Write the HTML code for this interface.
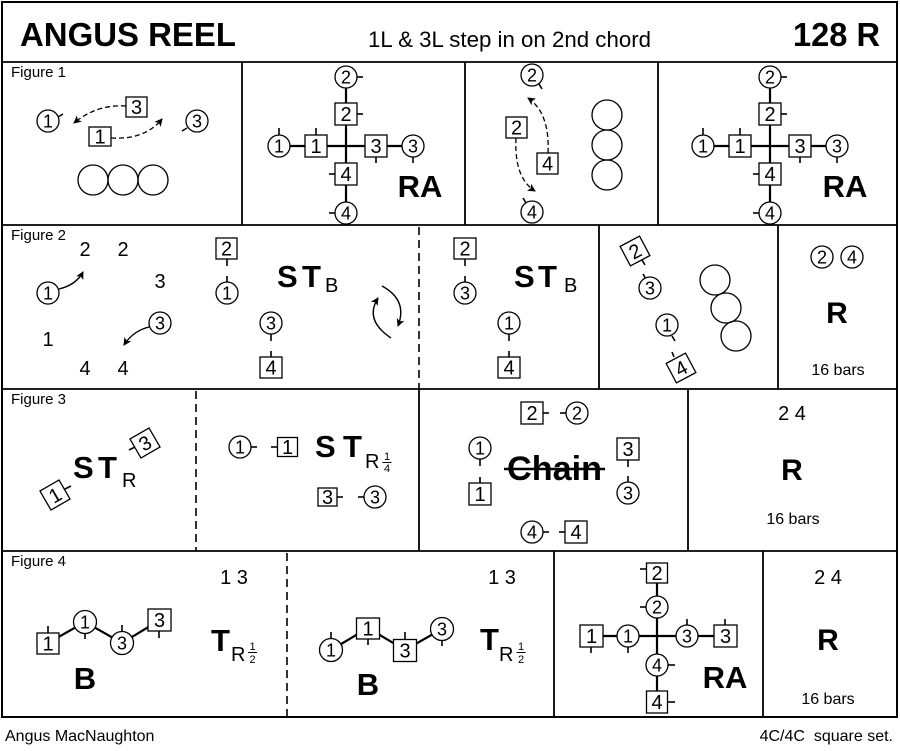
<!DOCTYPE html>
<html><head><meta charset="utf-8">
<style>
html,body{margin:0;padding:0;background:#fff;}
svg{display:block;}
text{font-family:"Liberation Sans",Arial,sans-serif;fill:#000;}
.fr{stroke:#000;stroke-width:1.8;fill:none}
.dl{stroke:#000;stroke-width:1.6;fill:none;stroke-dasharray:8,5}
.ln{stroke:#000;stroke-width:2.2;fill:none}
.tk{stroke:#000;stroke-width:1.6}
.sh{fill:#fff;stroke:#000;stroke-width:1.3}
.oc{fill:none;stroke:#000;stroke-width:1.3}
.da{stroke:#000;stroke-width:1.3;fill:none;stroke-dasharray:5,3}
.ar{stroke:#000;stroke-width:1.4;fill:none}
.n{font-size:18px;text-anchor:middle}
.nb{font-size:20px;text-anchor:middle}
.bd{font-weight:bold}
.lab{font-size:15px}
</style></head><body>
<svg width="900" height="751" viewBox="0 0 900 751" xmlns="http://www.w3.org/2000/svg">
<defs>
<marker id="ah" markerWidth="10" markerHeight="10" refX="7" refY="4" orient="auto" markerUnits="userSpaceOnUse">
<path d="M0,0 L8,4 L0,8 L2,4 z" fill="#000"/>
</marker>
</defs>

<!-- Frame -->
<rect x="2" y="2" width="895" height="715" fill="none" stroke="#000" stroke-width="2"/>
<line class="fr" x1="2" y1="62" x2="897" y2="62"/>
<line class="fr" x1="2" y1="225" x2="897" y2="225"/>
<line class="fr" x1="2" y1="389" x2="897" y2="389"/>
<line class="fr" x1="2" y1="551" x2="897" y2="551"/>
<!-- Fig1 cols -->
<line class="fr" x1="242" y1="62" x2="242" y2="225"/>
<line class="fr" x1="465" y1="62" x2="465" y2="225"/>
<line class="fr" x1="658" y1="62" x2="658" y2="225"/>
<!-- Fig2 cols -->
<line class="dl" x1="419" y1="227" x2="419" y2="389"/>
<line class="fr" x1="599" y1="225" x2="599" y2="389"/>
<line class="fr" x1="778" y1="225" x2="778" y2="389"/>
<!-- Fig3 cols -->
<line class="dl" x1="196" y1="391" x2="196" y2="551"/>
<line class="fr" x1="419" y1="389" x2="419" y2="551"/>
<line class="fr" x1="688" y1="389" x2="688" y2="551"/>
<!-- Fig4 cols -->
<line class="dl" x1="287" y1="553" x2="287" y2="717"/>
<line class="fr" x1="554" y1="551" x2="554" y2="717"/>
<line class="fr" x1="763" y1="551" x2="763" y2="717"/>

<!-- Header -->
<text x="20" y="46" font-size="33" class="bd" textLength="216" lengthAdjust="spacingAndGlyphs">ANGUS REEL</text>
<text x="368" y="47" font-size="22" textLength="283" lengthAdjust="spacingAndGlyphs">1L &amp; 3L step in on 2nd chord</text>
<text x="793" y="46" font-size="33" class="bd" textLength="87" lengthAdjust="spacingAndGlyphs">128 R</text>

<!-- Figure labels -->
<text x="11" y="77" class="lab">Figure 1</text>
<text x="11" y="240" class="lab">Figure 2</text>
<text x="11" y="404" class="lab">Figure 3</text>
<text x="11" y="566" class="lab">Figure 4</text>

<!-- ===== Figure 1 panel 1 ===== -->
<path class="da" d="M126,106 Q97,104 74,123" marker-end="url(#ah)"/>
<path class="da" d="M111,138 Q145,140 162,119" marker-end="url(#ah)"/>
<line class="tk" x1="58" y1="117" x2="63" y2="114"/>
<circle class="sh" cx="48" cy="121" r="11"/><text class="n" x="48" y="127.4">1</text>
<line class="tk" x1="187" y1="128" x2="182" y2="131"/>
<circle class="sh" cx="197" cy="121" r="11"/><text class="n" x="197" y="127.4">3</text>
<rect class="sh" x="126" y="97" width="21" height="20"/><text class="nb" x="136.5" y="114.2">3</text>
<rect class="sh" x="89" y="127" width="22" height="19"/><text class="nb" x="100" y="143.7">1</text>
<circle class="oc" cx="93" cy="180" r="15"/>
<circle class="oc" cx="123" cy="180" r="15"/>
<circle class="oc" cx="153" cy="180" r="15"/>

<!-- ===== Figure 1 panel 2 (RA) ===== -->
<line class="ln" x1="346" y1="85" x2="346" y2="205"/>
<line class="ln" x1="285" y1="146" x2="405" y2="146"/>
<line class="tk" x1="357" y1="77" x2="363" y2="77"/>
<circle class="sh" cx="346" cy="77" r="11"/><text class="n" x="346" y="83.4">2</text>
<line class="tk" x1="357" y1="114" x2="363" y2="114"/>
<rect class="sh" x="335" y="103" width="22" height="22"/><text class="nb" x="346" y="121.2">2</text>
<line class="tk" x1="279" y1="128" x2="279" y2="135"/>
<circle class="sh" cx="279" cy="146" r="11"/><text class="n" x="279" y="152.4">1</text>
<line class="tk" x1="316" y1="128" x2="316" y2="135"/>
<rect class="sh" x="305" y="135" width="22" height="22"/><text class="nb" x="316" y="153.2">1</text>
<line class="tk" x1="376" y1="157" x2="376" y2="163"/>
<rect class="sh" x="365" y="135" width="22" height="22"/><text class="nb" x="376" y="153.2">3</text>
<line class="tk" x1="413" y1="157" x2="413" y2="163"/>
<circle class="sh" cx="413" cy="146" r="11"/><text class="n" x="413" y="152.4">3</text>
<line class="tk" x1="329" y1="174" x2="335" y2="174"/>
<rect class="sh" x="335" y="163" width="22" height="22"/><text class="nb" x="346" y="181.2">4</text>
<line class="tk" x1="329" y1="213" x2="335" y2="213"/>
<circle class="sh" cx="346" cy="213" r="11"/><text class="n" x="346" y="219.4">4</text>
<text x="420" y="197" font-size="31" class="bd" text-anchor="middle">RA</text>

<!-- ===== Figure 1 panel 3 ===== -->
<path class="da" d="M548,153 Q550,113 528,98" marker-end="url(#ah)"/>
<path class="da" d="M516,138 Q514,178 535,191" marker-end="url(#ah)"/>
<line class="tk" x1="539" y1="84" x2="542" y2="89"/>
<circle class="sh" cx="532" cy="75" r="11"/><text class="n" x="532" y="81.4">2</text>
<rect class="sh" x="506" y="117" width="21" height="21"/><text class="nb" x="516.5" y="134.7">2</text>
<rect class="sh" x="537" y="153" width="21" height="21"/><text class="nb" x="547.5" y="170.7">4</text>
<line class="tk" x1="526" y1="203" x2="523" y2="198"/>
<circle class="sh" cx="532" cy="212" r="11"/><text class="n" x="532" y="218.4">4</text>
<circle class="oc" cx="607" cy="115" r="15"/>
<circle class="oc" cx="607" cy="145" r="15"/>
<circle class="oc" cx="607" cy="175" r="15"/>

<!-- ===== Figure 1 panel 4 (RA) ===== -->
<line class="ln" x1="770" y1="85" x2="770" y2="205"/>
<line class="ln" x1="709" y1="146" x2="829" y2="146"/>
<line class="tk" x1="781" y1="77" x2="787" y2="77"/>
<circle class="sh" cx="770" cy="77" r="11"/><text class="n" x="770" y="83.4">2</text>
<line class="tk" x1="781" y1="114" x2="787" y2="114"/>
<rect class="sh" x="759" y="103" width="22" height="22"/><text class="nb" x="770" y="121.2">2</text>
<line class="tk" x1="703" y1="128" x2="703" y2="135"/>
<circle class="sh" cx="703" cy="146" r="11"/><text class="n" x="703" y="152.4">1</text>
<line class="tk" x1="740" y1="128" x2="740" y2="135"/>
<rect class="sh" x="729" y="135" width="22" height="22"/><text class="nb" x="740" y="153.2">1</text>
<line class="tk" x1="800" y1="157" x2="800" y2="163"/>
<rect class="sh" x="789" y="135" width="22" height="22"/><text class="nb" x="800" y="153.2">3</text>
<line class="tk" x1="837" y1="157" x2="837" y2="163"/>
<circle class="sh" cx="837" cy="146" r="11"/><text class="n" x="837" y="152.4">3</text>
<line class="tk" x1="753" y1="174" x2="759" y2="174"/>
<rect class="sh" x="759" y="163" width="22" height="22"/><text class="nb" x="770" y="181.2">4</text>
<line class="tk" x1="753" y1="213" x2="759" y2="213"/>
<circle class="sh" cx="770" cy="213" r="11"/><text class="n" x="770" y="219.4">4</text>
<text x="845" y="197" font-size="31" class="bd" text-anchor="middle">RA</text>

<!-- ===== Figure 2 panel 1 ===== -->
<text class="nb" x="85" y="256">2</text>
<text class="nb" x="123" y="256">2</text>
<text class="nb" x="160" y="288">3</text>
<text class="nb" x="48" y="346">1</text>
<text class="nb" x="85" y="375">4</text>
<text class="nb" x="123" y="375">4</text>
<path class="ar" d="M59,289 Q76,285 83,272" marker-end="url(#ah)"/>
<circle class="sh" cx="48" cy="293" r="11"/><text class="n" x="48" y="299.4">1</text>
<path class="ar" d="M149,327 Q133,331 124,345" marker-end="url(#ah)"/>
<circle class="sh" cx="160" cy="323" r="11"/><text class="n" x="160" y="329.4">3</text>
<line class="tk" x1="227" y1="259" x2="227" y2="266"/>
<line class="tk" x1="227" y1="276" x2="227" y2="282"/>
<rect class="sh" x="216" y="238" width="21" height="21"/><text class="nb" x="226.5" y="255.7">2</text>
<circle class="sh" cx="227" cy="293" r="11"/><text class="n" x="227" y="299.4">1</text>
<line class="tk" x1="271" y1="334" x2="271" y2="341"/>
<line class="tk" x1="271" y1="351" x2="271" y2="357"/>
<circle class="sh" cx="271" cy="323" r="11"/><text class="n" x="271" y="329.4">3</text>
<rect class="sh" x="260" y="357" width="22" height="21"/><text class="nb" x="271" y="374.7">4</text>
<text x="277" y="287" font-size="31" class="bd">S</text>
<text x="302" y="287" font-size="31" class="bd">T</text>
<text x="325" y="292" font-size="20">B</text>
<path class="ar" d="M382,286 Q408,300 398,326" marker-end="url(#ah)"/>
<path class="ar" d="M391,338 Q364,320 378,298" marker-end="url(#ah)"/>

<!-- ===== Figure 2 panel 2 ===== -->
<line class="tk" x1="465" y1="259" x2="465" y2="266"/>
<line class="tk" x1="465" y1="276" x2="465" y2="282"/>
<rect class="sh" x="454" y="238" width="22" height="21"/><text class="nb" x="465" y="255.7">2</text>
<circle class="sh" cx="465" cy="293" r="11"/><text class="n" x="465" y="299.4">3</text>
<text x="514" y="287" font-size="31" class="bd">S</text>
<text x="538" y="287" font-size="31" class="bd">T</text>
<text x="564" y="292" font-size="20">B</text>
<line class="tk" x1="509" y1="334" x2="509" y2="341"/>
<line class="tk" x1="509" y1="351" x2="509" y2="357"/>
<circle class="sh" cx="509" cy="323" r="11"/><text class="n" x="509" y="329.4">1</text>
<rect class="sh" x="498" y="357" width="22" height="21"/><text class="nb" x="509" y="374.7">4</text>

<!-- ===== Figure 2 panel 3 ===== -->
<line class="tk" x1="642" y1="260" x2="645" y2="265"/>
<line class="tk" x1="643" y1="274" x2="646" y2="279"/>
<line class="tk" x1="672" y1="336" x2="675" y2="341"/>
<line class="tk" x1="672" y1="352" x2="674" y2="357"/>
<g transform="translate(635,251) rotate(-28)"><rect class="sh" x="-11" y="-11" width="22" height="22"/><text class="nb" x="0" y="7.2">2</text></g>
<circle class="sh" cx="650" cy="288" r="11"/><text class="n" x="650" y="294.4">3</text>
<circle class="sh" cx="667" cy="325" r="11"/><text class="n" x="667" y="331.4">1</text>
<g transform="translate(681,368) rotate(-28)"><rect class="sh" x="-11" y="-11" width="22" height="22"/><text class="nb" x="0" y="7.2">4</text></g>
<circle class="oc" cx="715" cy="280" r="15"/>
<circle class="oc" cx="726" cy="308" r="15"/>
<circle class="oc" cx="736" cy="336" r="15"/>

<!-- ===== Figure 2 panel 4 ===== -->
<circle class="sh" cx="822" cy="257" r="11"/><text class="n" x="822" y="263.4">2</text>
<circle class="sh" cx="852" cy="257" r="11"/><text class="n" x="852" y="263.4">4</text>
<text x="837" y="323" font-size="30" class="bd" text-anchor="middle">R</text>
<text x="838" y="375" font-size="16" text-anchor="middle">16 bars</text>

<!-- ===== Figure 3 panel 1 ===== -->
<text x="73" y="478" font-size="31" class="bd">S</text>
<text x="98" y="478" font-size="31" class="bd">T</text>
<text x="122" y="487" font-size="20">R</text>
<line class="tk" x1="65" y1="489" x2="71" y2="486"/>
<g transform="translate(55,495) rotate(-30)"><rect class="sh" x="-11" y="-11" width="22" height="22"/><text class="nb" x="0" y="7.2">1</text></g>
<line class="tk" x1="129" y1="450" x2="135" y2="447"/>
<g transform="translate(145,443) rotate(-30)"><rect class="sh" x="-11" y="-11" width="22" height="22"/><text class="nb" x="0" y="7.2">3</text></g>

<!-- ===== Figure 3 panel 2 ===== -->
<line class="tk" x1="251" y1="447" x2="257" y2="447"/>
<circle class="sh" cx="240" cy="447" r="11"/><text class="n" x="240" y="453.4">1</text>
<line class="tk" x1="271" y1="447" x2="277" y2="447"/>
<rect class="sh" x="277.5" y="437.5" width="20" height="19"/><text class="nb" x="287.5" y="454.2">1</text>
<text x="315" y="457" font-size="31" class="bd">S</text>
<text x="343" y="457" font-size="31" class="bd">T</text>
<text x="365" y="468" font-size="20">R</text>
<text x="387" y="460" font-size="11" text-anchor="middle">1</text>
<line x1="382.5" y1="462.5" x2="391.5" y2="462.5" stroke="#000" stroke-width="1"/>
<text x="387" y="472" font-size="11" text-anchor="middle">4</text>
<line class="tk" x1="337" y1="497" x2="343" y2="497"/>
<rect class="sh" x="318" y="488" width="19" height="18"/><text class="nb" x="327.5" y="504.2">3</text>
<line class="tk" x1="358" y1="497" x2="364" y2="497"/>
<circle class="sh" cx="375" cy="497" r="11"/><text class="n" x="375" y="503.4">3</text>

<!-- ===== Figure 3 panel 3 ===== -->
<line class="tk" x1="543" y1="413" x2="549" y2="413"/>
<rect class="sh" x="521" y="402" width="22" height="22"/><text class="nb" x="532" y="420.2">2</text>
<line class="tk" x1="560" y1="413" x2="566" y2="413"/>
<circle class="sh" cx="577" cy="413" r="11"/><text class="n" x="577" y="419.4">2</text>
<line class="tk" x1="480" y1="459" x2="480" y2="466"/>
<circle class="sh" cx="480" cy="448" r="11"/><text class="n" x="480" y="454.4">1</text>
<line class="tk" x1="480" y1="477" x2="480" y2="483"/>
<rect class="sh" x="469" y="483" width="22" height="22"/><text class="nb" x="480" y="501.2">1</text>
<text x="507" y="480" font-size="34" class="bd" textLength="95" lengthAdjust="spacingAndGlyphs">Chain</text>
<line x1="504" y1="469" x2="605" y2="469" stroke="#000" stroke-width="2.6"/>
<line class="tk" x1="628" y1="460" x2="628" y2="467"/>
<rect class="sh" x="617" y="438" width="22" height="22"/><text class="nb" x="628" y="456.2">3</text>
<line class="tk" x1="628" y1="476" x2="628" y2="482"/>
<circle class="sh" cx="628" cy="493" r="11"/><text class="n" x="628" y="499.4">3</text>
<line class="tk" x1="543" y1="532" x2="549" y2="532"/>
<circle class="sh" cx="532" cy="532" r="11"/><text class="n" x="532" y="538.4">4</text>
<line class="tk" x1="559" y1="532" x2="565" y2="532"/>
<rect class="sh" x="565" y="521" width="22" height="22"/><text class="nb" x="576" y="539.2">4</text>

<!-- ===== Figure 3 panel 4 ===== -->
<text x="792" y="420" font-size="20" text-anchor="middle">2 4</text>
<text x="792" y="480" font-size="30" class="bd" text-anchor="middle">R</text>
<text x="793" y="524" font-size="16" text-anchor="middle">16 bars</text>

<!-- ===== Figure 4 panel 1 ===== -->
<text x="234" y="584" font-size="20" text-anchor="middle">1 3</text>
<polyline class="ln" points="48,643 85,622 122,643 160,620"/>
<line class="tk" x1="48" y1="626" x2="48" y2="633"/>
<rect class="sh" x="37" y="633" width="22" height="21"/><text class="nb" x="48" y="650.7">1</text>
<line class="tk" x1="85" y1="632" x2="85" y2="639"/>
<circle class="sh" cx="85" cy="622" r="11.5"/><text class="n" x="85" y="628.4">1</text>
<line class="tk" x1="122" y1="625" x2="122" y2="632"/>
<circle class="sh" cx="122" cy="643" r="11.5"/><text class="n" x="122" y="649.4">3</text>
<line class="tk" x1="159" y1="631" x2="159" y2="638"/>
<rect class="sh" x="148" y="609" width="23" height="22"/><text class="nb" x="159.5" y="627.2">3</text>
<text x="85" y="689" font-size="31" class="bd" text-anchor="middle">B</text>
<text x="211" y="651" font-size="31" class="bd">T</text>
<text x="231" y="661" font-size="20">R</text>
<text x="252.5" y="650" font-size="11" text-anchor="middle">1</text>
<line x1="248" y1="652.5" x2="257" y2="652.5" stroke="#000" stroke-width="1"/>
<text x="252.5" y="663" font-size="11" text-anchor="middle">2</text>

<!-- ===== Figure 4 panel 2 ===== -->
<text x="502" y="584" font-size="20" text-anchor="middle">1 3</text>
<polyline class="ln" points="331,650 368,628 405,650 442,629"/>
<line class="tk" x1="331" y1="632" x2="331" y2="639"/>
<circle class="sh" cx="331" cy="650" r="11.5"/><text class="n" x="331" y="656.4">1</text>
<line class="tk" x1="368" y1="638" x2="368" y2="645"/>
<rect class="sh" x="356.5" y="618" width="23" height="21"/><text class="nb" x="368" y="635.7">1</text>
<line class="tk" x1="405" y1="632" x2="405" y2="639"/>
<rect class="sh" x="393.5" y="639.5" width="23" height="22"/><text class="nb" x="405" y="657.7">3</text>
<line class="tk" x1="442" y1="639" x2="442" y2="646"/>
<circle class="sh" cx="442" cy="629" r="11.5"/><text class="n" x="442" y="635.4">3</text>
<text x="368" y="695" font-size="31" class="bd" text-anchor="middle">B</text>
<text x="480" y="650" font-size="31" class="bd">T</text>
<text x="499" y="661" font-size="20">R</text>
<text x="521" y="650" font-size="11" text-anchor="middle">1</text>
<line x1="516.5" y1="652.5" x2="525.5" y2="652.5" stroke="#000" stroke-width="1"/>
<text x="521" y="663" font-size="11" text-anchor="middle">2</text>

<!-- ===== Figure 4 panel 3 (RA) ===== -->
<line class="ln" x1="657" y1="580" x2="657" y2="695"/>
<line class="ln" x1="598" y1="636" x2="718" y2="636"/>
<line class="tk" x1="640" y1="569" x2="646" y2="569"/>
<rect class="sh" x="646.5" y="563" width="21" height="20"/><text class="nb" x="657" y="580.2">2</text>
<line class="tk" x1="640" y1="607" x2="646" y2="607"/>
<circle class="sh" cx="657" cy="607" r="11"/><text class="n" x="657" y="613.4">2</text>
<line class="tk" x1="591" y1="647" x2="591" y2="653"/>
<rect class="sh" x="580" y="625" width="23" height="22"/><text class="nb" x="591.5" y="643.2">1</text>
<line class="tk" x1="628" y1="647" x2="628" y2="653"/>
<circle class="sh" cx="628" cy="636" r="11"/><text class="n" x="628" y="642.4">1</text>
<line class="tk" x1="687" y1="619" x2="687" y2="625"/>
<circle class="sh" cx="687" cy="636" r="11"/><text class="n" x="687" y="642.4">3</text>
<line class="tk" x1="725" y1="619" x2="725" y2="625"/>
<rect class="sh" x="714" y="625" width="23" height="22"/><text class="nb" x="725.5" y="643.2">3</text>
<line class="tk" x1="668" y1="665" x2="675" y2="665"/>
<circle class="sh" cx="657" cy="665" r="11"/><text class="n" x="657" y="671.4">4</text>
<line class="tk" x1="668" y1="702" x2="675" y2="702"/>
<rect class="sh" x="646.5" y="691" width="21" height="22"/><text class="nb" x="657" y="709.2">4</text>
<text x="725" y="688" font-size="31" class="bd" text-anchor="middle">RA</text>

<!-- ===== Figure 4 panel 4 ===== -->
<text x="828" y="584" font-size="20" text-anchor="middle">2 4</text>
<text x="828" y="650" font-size="30" class="bd" text-anchor="middle">R</text>
<text x="828" y="704" font-size="16" text-anchor="middle">16 bars</text>

<!-- Footer -->
<text x="5" y="741" font-size="16">Angus MacNaughton</text>
<text x="893" y="741" font-size="16" text-anchor="end" xml:space="preserve">4C/4C  square set.</text>
</svg>
</body></html>
